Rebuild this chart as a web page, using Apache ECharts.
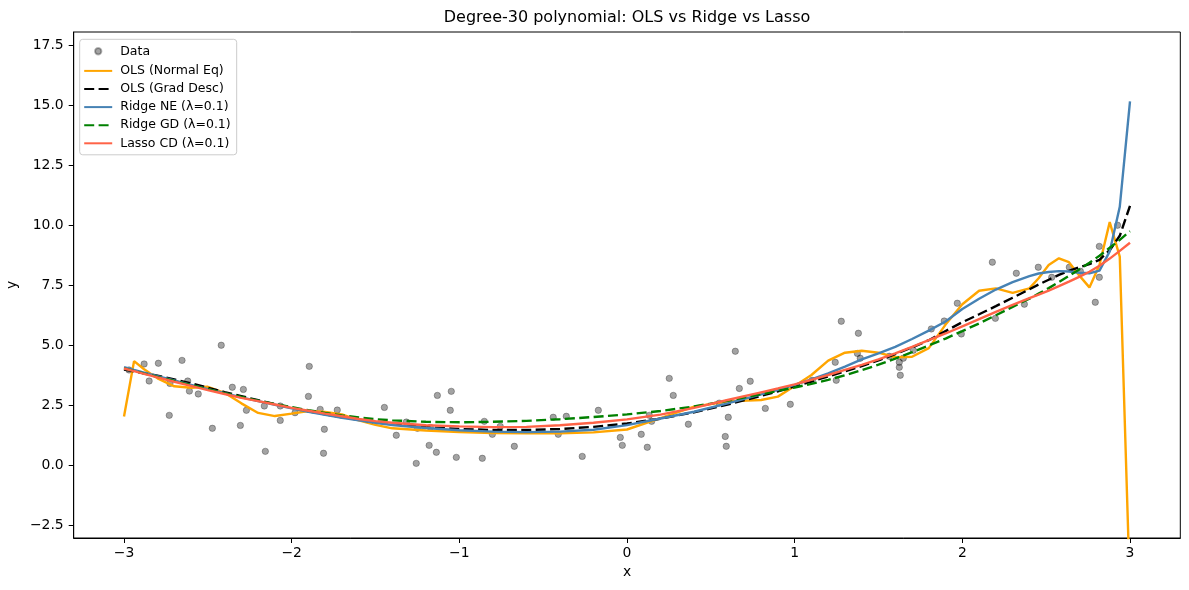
<!DOCTYPE html>
<html>
<head>
<meta charset="utf-8">
<script src="https://cdn.jsdelivr.net/npm/echarts@6/dist/echarts.min.js"></script>
<style>
  html, body { margin: 0; padding: 0; background: #fff; }
  #chart { width: 1189px; height: 590px; }
</style>
</head>
<body>
<div id="chart"></div>
<script>
// sample points (x) shared by all fitted curves
const xs = [-3.0, -2.94, -2.88, -2.8, -2.7, -2.6, -2.5, -2.4, -2.3, -2.2, -2.1, -2.0, -1.9, -1.8, -1.7, -1.6, -1.5, -1.4, -1.2, -1.0,
  -0.8, -0.6, -0.4, -0.2, 0.0, 0.2, 0.4, 0.6, 0.8, 0.9, 1.0, 1.1, 1.2, 1.3, 1.4, 1.5, 1.6, 1.7, 1.8, 1.9,
  2.0, 2.1, 2.2, 2.3, 2.4, 2.455, 2.515, 2.576, 2.636, 2.697, 2.758, 2.818, 2.879, 2.939, 3.0];

const olsNormal = [2.02, 4.33, 3.99, 3.61, 3.28, 3.22, 3.26, 3.01, 2.57, 2.17, 2.04, 2.14, 2.25, 2.21, 2.11, 1.86, 1.67, 1.53, 1.44, 1.375,
  1.33, 1.32, 1.32, 1.36, 1.48, 1.95, 2.43, 2.65, 2.71, 2.85, 3.29, 3.75, 4.35, 4.68, 4.76, 4.68, 4.49, 4.51, 4.87, 5.85,
  6.70, 7.26, 7.36, 7.17, 7.36, 7.78, 8.33, 8.61, 8.45, 7.90, 7.40, 8.33, 10.12, 8.68, -5.3];

const olsGrad = [3.98, 3.90, 3.82, 3.72, 3.57, 3.40, 3.22, 3.04, 2.87, 2.70, 2.54, 2.39, 2.24, 2.11, 1.99, 1.88, 1.78, 1.70, 1.58, 1.50,
  1.46, 1.46, 1.50, 1.59, 1.73, 1.93, 2.20, 2.52, 2.88, 3.07, 3.28, 3.48, 3.69, 3.90, 4.12, 4.36, 4.62, 4.90, 5.20, 5.58,
  5.95, 6.28, 6.62, 6.97, 7.32, 7.52, 7.72, 7.92, 8.09, 8.24, 8.37, 8.55, 8.95, 9.55, 10.8];

const ridgeNE = [4.08, 3.96, 3.85, 3.70, 3.52, 3.34, 3.16, 2.99, 2.82, 2.66, 2.51, 2.36, 2.22, 2.09, 1.97, 1.86, 1.76, 1.67, 1.54, 1.45,
  1.39, 1.37, 1.39, 1.47, 1.66, 1.94, 2.22, 2.57, 2.94, 3.13, 3.34, 3.57, 3.82, 4.10, 4.40, 4.65, 4.92, 5.25, 5.60, 5.98,
  6.50, 6.93, 7.31, 7.62, 7.87, 7.98, 8.04, 8.08, 8.06, 8.01, 7.99, 8.10, 8.90, 10.76, 15.15];

const ridgeGD = [4.03, 3.92, 3.81, 3.67, 3.50, 3.33, 3.16, 2.99, 2.84, 2.68, 2.54, 2.41, 2.28, 2.17, 2.07, 1.98, 1.91, 1.86, 1.80, 1.78,
  1.80, 1.84, 1.91, 2.00, 2.11, 2.25, 2.44, 2.68, 2.95, 3.09, 3.23, 3.38, 3.55, 3.74, 3.95, 4.18, 4.43, 4.70, 4.98, 5.27,
  5.58, 5.90, 6.24, 6.59, 6.93, 7.14, 7.37, 7.62, 7.88, 8.15, 8.43, 8.72, 9.05, 9.38, 9.74];

const lassoCD = [4.02, 3.91, 3.80, 3.65, 3.47, 3.30, 3.12, 2.96, 2.80, 2.66, 2.52, 2.38, 2.26, 2.14, 2.03, 1.92, 1.83, 1.76, 1.66, 1.61,
  1.58, 1.59, 1.66, 1.76, 1.90, 2.10, 2.38, 2.71, 3.03, 3.19, 3.36, 3.55, 3.75, 3.96, 4.17, 4.40, 4.65, 4.92, 5.20, 5.48,
  5.78, 6.08, 6.38, 6.67, 6.95, 7.10, 7.27, 7.45, 7.64, 7.84, 8.05, 8.30, 8.60, 8.92, 9.26];

// noisy observations
const dataX = [-2.97, -2.88, -2.795, -2.85, -2.654, -2.726, -2.62, -2.61, -2.557, -2.73, -2.42, -2.473, -2.354, -2.288, -2.27, -2.306,
  -2.163, -2.068, -2.068, -2.157, -1.98, -1.895, -1.90, -1.83, -1.728, -1.805, -1.81,
  -1.447, -1.376, -1.316, -1.25, -1.173, -1.257, -1.18, -1.137, -1.131, -1.048, -1.054, -1.018, -0.863, -0.851, -0.803, -0.756,
  -0.672, -0.44, -0.362, -0.41, -0.267, -0.171, -0.04, -0.028, 0.085, 0.121,
  0.133, 0.147, 0.252, 0.276, 0.366, 0.55, 0.604, 0.586, 0.592, 0.646, 0.67, 0.735, 0.825, 0.974, 1.105, 1.242, 1.248, 1.278,
  1.38, 1.374, 1.391, 1.564, 1.624, 1.624, 1.63, 1.648, 1.708,
  1.815, 1.892, 1.994, 1.97, 2.179, 2.197, 2.322, 2.37, 2.453, 2.533, 2.638, 2.704, 2.817, 2.817, 2.793, 2.926];
const dataY = [3.96, 4.21, 4.24, 3.5, 4.36, 3.4, 3.5, 3.08, 2.96, 2.07, 4.99, 1.53, 3.24, 3.15, 2.28, 1.65,
  2.46, 2.46, 1.86, 0.57, 2.18, 4.11, 2.86, 2.32, 2.29, 1.49, 0.49,
  2.40, 1.24, 1.79, 1.53, 1.57, 0.07, 0.82, 0.53, 2.90, 3.07, 2.28, 0.32, 0.28, 1.82, 1.28, 1.61,
  0.78, 1.99, 2.03, 1.28, 0.36, 2.28, 1.15, 0.82, 1.28, 0.74,
  2.07, 1.82, 3.61, 2.90, 1.70, 2.58, 1.99, 1.19, 0.78, 4.74, 3.19, 3.49, 2.36, 2.53, 3.53, 4.28, 3.53, 5.99,
  5.49, 4.65, 4.45, 4.53, 4.28, 4.07, 3.74, 4.45, 4.78,
  5.67, 6.0, 5.46, 6.74, 8.45, 6.11, 7.99, 6.70, 8.24, 7.82, 8.24, 8.07, 9.11, 7.82, 6.78, 9.99];

const xTicks = [-3, -2, -1, 0, 1, 2, 3];
const yTicks = [-2.5, 0, 2.5, 5, 7.5, 10, 12.5, 15, 17.5];

const font = "DejaVu Sans";
const minus = (s) => String(s).replace("-", "\u2212");

const curve = (ys) => xs.map((x, i) => [x, ys[i]]);

function lineSeries(name, ys, color, dashed) {
  return {
    name,
    type: "line",
    data: curve(ys),
    symbol: "none",
    clip: true,
    lineStyle: { color, width: 2.4, type: dashed ? [10, 4.4] : "solid", cap: "butt" },
    itemStyle: { color },
    emphasis: { disabled: true },
    animation: false,
  };
}

// legend entry for a line: hide the marker, keep the stroke
const lineEntry = (name) => ({ name, itemStyle: { opacity: 0 } });

const chart = echarts.init(document.getElementById("chart"));
chart.setOption({
  animation: false,
  backgroundColor: "#fff",
  textStyle: { fontFamily: font },
  title: {
    text: "Degree-30 polynomial: OLS vs Ridge vs Lasso",
    left: 627,
    top: 10,
    padding: 0,
    textAlign: "center",
    textStyle: { fontFamily: font, fontSize: 16, fontWeight: "normal", color: "#000" },
  },
  grid: {
    left: 73.7, right: 8.7, top: 32, bottom: 52,
    containLabel: false,
    outerBoundsMode: "none",
    show: true, borderColor: "#000", borderWidth: 1, backgroundColor: "transparent",
  },
  legend: {
    orient: "vertical",
    left: 79.7,
    top: 39.3,
    padding: [4, 6, 5, 3.5],
    itemWidth: 28,
    itemHeight: 14,
    itemGap: 5.1,
    backgroundColor: "rgba(255,255,255,0.8)",
    borderColor: "#cccccc",
    borderWidth: 1,
    borderRadius: 3,
    textStyle: { fontFamily: font, fontSize: 12.5, color: "#000", padding: [0, 0, 0, 3] },
    data: [
      { name: "Data", icon: "path://M0,0M14,14M3.8,7a3.2,3.2 0 1,0 6.4,0a3.2,3.2 0 1,0 -6.4,0z" },
      lineEntry("OLS (Normal Eq)"), lineEntry("OLS (Grad Desc)"), lineEntry("Ridge NE (λ=0.1)"),
      lineEntry("Ridge GD (λ=0.1)"), lineEntry("Lasso CD (λ=0.1)"),
    ],
  },
  xAxis: {
    type: "value",
    min: -3.3,
    max: 3.3,
    name: "x",
    nameLocation: "middle",
    nameGap: 27,
    nameTextStyle: { fontFamily: font, fontSize: 13.9, color: "#000" },
    axisLine: { onZero: false, lineStyle: { color: "#000", width: 1 } },
    axisTick: { show: true, length: 5, lineStyle: { color: "#000" }, customValues: xTicks },
    axisLabel: { fontFamily: font, fontSize: 13.9, color: "#000", margin: 8, customValues: xTicks, formatter: (v) => minus(v) },
    splitLine: { show: false },
  },
  yAxis: {
    type: "value",
    min: -3.04,
    max: 18.04,
    name: "y",
    nameLocation: "middle",
    nameGap: 49,
    nameTextStyle: { fontFamily: font, fontSize: 13.9, color: "#000" },
    axisLine: { show: true, onZero: false, lineStyle: { color: "#000", width: 1 } },
    axisTick: { show: true, length: 5, lineStyle: { color: "#000" }, customValues: yTicks },
    axisLabel: { fontFamily: font, fontSize: 13.9, color: "#000", margin: 10, customValues: yTicks, formatter: (v) => minus(v.toFixed(1)) },
    splitLine: { show: false },
  },
  series: [
    {
      name: "Data",
      type: "scatter",
      data: dataX.map((x, i) => [x, dataY[i]]),
      symbol: "circle",
      symbolSize: 6.4,
      itemStyle: { color: "rgba(0,0,0,0.45)", borderColor: "rgba(0,0,0,0.35)", borderWidth: 1 },
      emphasis: { disabled: true },
    },
    lineSeries("OLS (Normal Eq)", olsNormal, "#FFA500", false),
    lineSeries("OLS (Grad Desc)", olsGrad, "#000000", true),
    lineSeries("Ridge NE (λ=0.1)", ridgeNE, "#4682B4", false),
    lineSeries("Ridge GD (λ=0.1)", ridgeGD, "#008000", true),
    lineSeries("Lasso CD (λ=0.1)", lassoCD, "#FF6347", false),
  ],
});
</script>
</body>
</html>
